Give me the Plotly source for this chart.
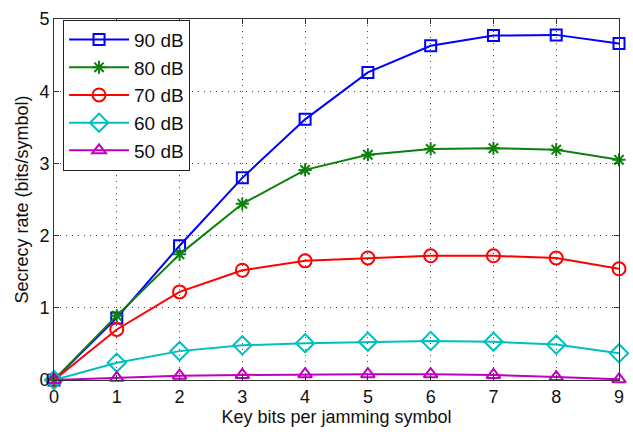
import plotly.graph_objects as go

key_bits = [0, 1, 2, 3, 4, 5, 6, 7, 8, 9]

rate_90db = [0.0, 0.86, 1.86, 2.80, 3.61, 4.26, 4.63, 4.77, 4.78, 4.66]
rate_80db = [0.0, 0.89, 1.74, 2.44, 2.91, 3.12, 3.20, 3.21, 3.19, 3.05]
rate_70db = [0.0, 0.70, 1.22, 1.52, 1.65, 1.69, 1.72, 1.72, 1.69, 1.54]
rate_60db = [0.0, 0.24, 0.40, 0.48, 0.51, 0.53, 0.54, 0.53, 0.49, 0.37]
rate_50db = [0.0, 0.03, 0.06, 0.07, 0.08, 0.08, 0.08, 0.07, 0.04, 0.01]

series = [
    ("90 dB", rate_90db, "#0000ff", "square-open", 11),
    ("80 dB", rate_80db, "#0d800d", "asterisk-open", 11),
    ("70 dB", rate_70db, "#ff0000", "circle-open", 13),
    ("60 dB", rate_60db, "#00bfbf", "diamond-open", 14),
    ("50 dB", rate_50db, "#bf00bf", "triangle-up-open", 12),
]

fig = go.Figure()
for name, vals, color, symbol, size in series:
    fig.add_trace(go.Scatter(
        x=key_bits, y=vals, name=name, mode="lines+markers",
        line=dict(color=color, width=2),
        marker=dict(symbol=symbol, size=size, color=color,
                    line=dict(color=color, width=2)),
        cliponaxis=False,
    ))

font_family = "Liberation Sans, Arial, sans-serif"
axis_common = dict(
    showline=True, linecolor="#333333", linewidth=1, mirror="ticks",
    ticks="inside", ticklen=5, tickcolor="#333333",
    showgrid=True, gridcolor="#444444", griddash="1px,5px", gridwidth=1,
    zeroline=False, dtick=1,
    tickfont=dict(family=font_family, size=18, color="#111111"),
    title_font=dict(family=font_family, size=18, color="#111111"),
)

fig.update_xaxes(range=[0, 9], title_text="Key bits per jamming symbol",
                 title_standoff=4, **axis_common)
fig.update_yaxes(range=[0, 5], title_text="Secrecy rate (bits/symbol)",
                 title_standoff=6, **axis_common)

fig.update_layout(
    width=633, height=434,
    margin=dict(l=54, r=9, t=16, b=54),
    paper_bgcolor="white", plot_bgcolor="white",
    font=dict(family=font_family, size=18, color="#111111"),
    showlegend=True,
    legend=dict(
        x=0.016, y=0.998, xanchor="left", yanchor="top",
        bgcolor="white", bordercolor="#222222", borderwidth=1,
        font=dict(size=19), tracegroupgap=0, itemwidth=60,
    ),
)

fig.write_html("out.html")
